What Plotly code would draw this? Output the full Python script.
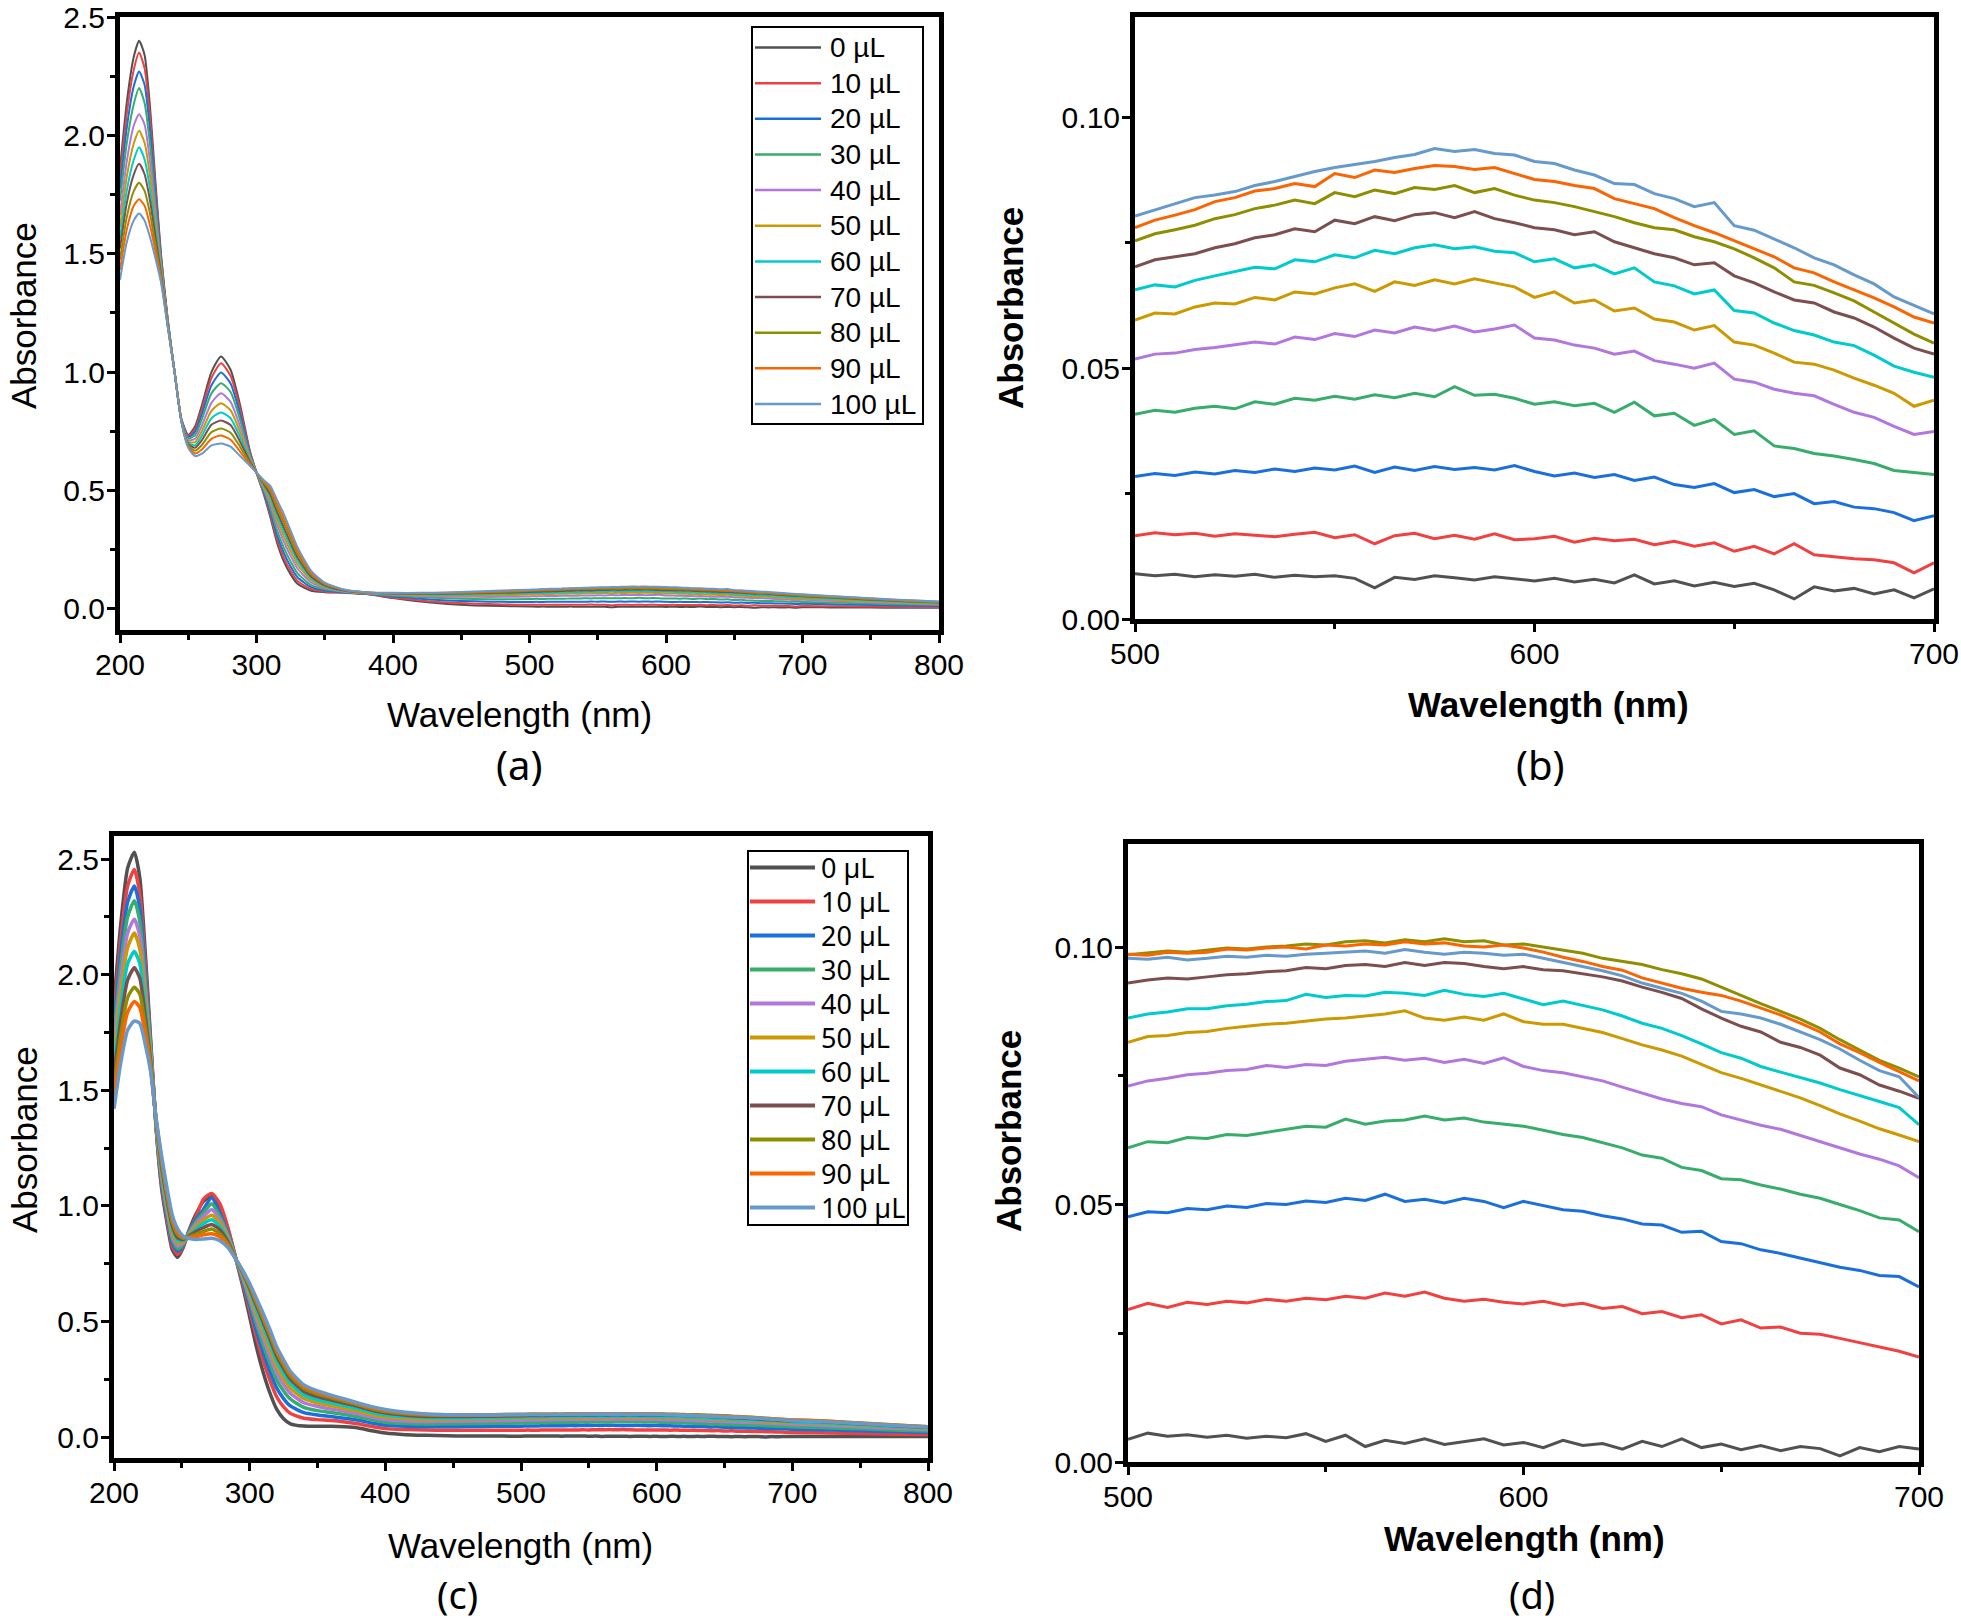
import plotly.graph_objects as go

# ---------------- series meta ----------------
labels = ['0 µL', '10 µL', '20 µL', '30 µL', '40 µL', '50 µL',
          '60 µL', '70 µL', '80 µL', '90 µL', '100 µL']
colors = ['#515151', '#F14040', '#1A6FDF', '#37AD6B', '#B177DE', '#CC9900',
          '#00CBCC', '#7D4E4E', '#8E8E00', '#FB6501', '#6699CC']

# ---------------- wavelength grids (nm) ----------------
wl_uv_a = [200, 205, 210, 214, 218, 222, 226, 230, 235, 240, 245, 250, 255, 260,
           267, 274, 281, 288, 295, 300, 305, 310, 315, 320, 325, 330, 340, 350,
           365, 380, 400, 420, 440, 460, 480]
wl_uv_c = [200, 205, 210, 215, 219, 223, 227, 231, 235, 239, 243, 247, 251, 255,
           260, 266, 272, 278, 284, 290, 295, 300, 305, 310, 315, 320, 325, 330,
           340, 350, 360, 370, 380, 390, 400, 415, 430, 445, 460, 480]
wl_vis = list(range(500, 705, 5))
wl_tail = [720, 740, 760, 780, 800]

# ---------------- set 1: UV part (panel a) ----------------
a_uv = [
    [1.86, 2.14, 2.33, 2.40, 2.34, 2.12, 1.80, 1.50, 1.22, 1.00, 0.80, 0.735, 0.77, 0.86, 1.00, 1.066, 1.01, 0.86, 0.67, 0.575, 0.49, 0.39, 0.28, 0.20, 0.145, 0.105, 0.076, 0.070, 0.067, 0.062, 0.045, 0.030, 0.020, 0.014, 0.011],
    [1.822, 2.093, 2.275, 2.35, 2.284, 2.076, 1.774, 1.490, 1.218, 1.00, 0.799, 0.731, 0.760, 0.844, 0.975, 1.037, 0.984, 0.843, 0.665, 0.575, 0.494, 0.400, 0.294, 0.216, 0.160, 0.117, 0.083, 0.073, 0.068, 0.063, 0.047, 0.035, 0.026, 0.021, 0.018],
    [1.775, 2.034, 2.206, 2.27, 2.214, 2.021, 1.742, 1.478, 1.215, 1.00, 0.798, 0.725, 0.748, 0.823, 0.944, 0.998, 0.952, 0.821, 0.658, 0.575, 0.500, 0.413, 0.312, 0.236, 0.178, 0.133, 0.091, 0.077, 0.069, 0.063, 0.052, 0.042, 0.035, 0.031, 0.029],
    [1.724, 1.969, 2.130, 2.20, 2.137, 1.961, 1.707, 1.465, 1.211, 1.00, 0.797, 0.719, 0.734, 0.801, 0.910, 0.953, 0.916, 0.798, 0.651, 0.575, 0.506, 0.428, 0.332, 0.258, 0.199, 0.150, 0.100, 0.082, 0.071, 0.064, 0.056, 0.049, 0.044, 0.041, 0.040],
    [1.663, 1.892, 2.040, 2.09, 2.046, 1.889, 1.666, 1.450, 1.207, 1.00, 0.796, 0.712, 0.718, 0.774, 0.870, 0.910, 0.874, 0.770, 0.643, 0.575, 0.513, 0.445, 0.356, 0.284, 0.223, 0.170, 0.111, 0.087, 0.072, 0.065, 0.059, 0.054, 0.051, 0.050, 0.050],
    [1.611, 1.827, 1.964, 2.02, 1.969, 1.829, 1.630, 1.436, 1.204, 1.00, 0.795, 0.706, 0.704, 0.751, 0.836, 0.868, 0.838, 0.746, 0.636, 0.575, 0.519, 0.459, 0.375, 0.306, 0.243, 0.187, 0.121, 0.091, 0.074, 0.066, 0.061, 0.058, 0.056, 0.056, 0.057],
    [1.564, 1.768, 1.895, 1.95, 1.899, 1.774, 1.598, 1.424, 1.201, 1.00, 0.794, 0.700, 0.691, 0.731, 0.805, 0.829, 0.805, 0.725, 0.629, 0.575, 0.525, 0.472, 0.393, 0.326, 0.262, 0.203, 0.129, 0.095, 0.075, 0.067, 0.063, 0.061, 0.060, 0.061, 0.063],
    [1.522, 1.715, 1.833, 1.88, 1.836, 1.724, 1.570, 1.414, 1.198, 1.00, 0.793, 0.695, 0.680, 0.712, 0.777, 0.795, 0.776, 0.705, 0.623, 0.575, 0.530, 0.484, 0.410, 0.344, 0.278, 0.217, 0.136, 0.099, 0.076, 0.068, 0.064, 0.063, 0.063, 0.065, 0.067],
    [1.475, 1.656, 1.764, 1.80, 1.766, 1.669, 1.538, 1.402, 1.195, 1.00, 0.792, 0.690, 0.668, 0.692, 0.746, 0.761, 0.744, 0.684, 0.617, 0.575, 0.535, 0.497, 0.428, 0.364, 0.297, 0.232, 0.145, 0.103, 0.078, 0.069, 0.065, 0.065, 0.066, 0.068, 0.071],
    [1.432, 1.603, 1.702, 1.73, 1.703, 1.620, 1.509, 1.391, 1.193, 1.00, 0.791, 0.685, 0.656, 0.673, 0.718, 0.732, 0.714, 0.664, 0.611, 0.575, 0.540, 0.508, 0.444, 0.382, 0.313, 0.246, 0.152, 0.106, 0.079, 0.069, 0.066, 0.066, 0.067, 0.070, 0.074],
    [1.39, 1.55, 1.64, 1.67, 1.64, 1.57, 1.48, 1.38, 1.19, 1.00, 0.79, 0.68, 0.645, 0.655, 0.69, 0.698, 0.685, 0.645, 0.605, 0.575, 0.545, 0.52, 0.46, 0.40, 0.33, 0.26, 0.16, 0.11, 0.08, 0.07, 0.067, 0.067, 0.069, 0.073, 0.077],
]

# ---------------- set 1: visible part 500-700 nm (panels a, b) ----------------
b_vis = [
    [.0090, .0086, .0089, .0084, .0088, .0085, .0089, .0083, .0087, .0084, .0086, .0081, .0062, .0083, .0079, .0086, .0082, .0078, .0084, .0080, .0076, .0081, .0074, .0079, .0072, .0088, .0070, .0076, .0066, .0073, .0065, .0071, .0058, .0040, .0064, .0056, .0061, .0050, .0058, .0042, .0060],
    [.0166, .0172, .0168, .0171, .0165, .0170, .0167, .0164, .0169, .0173, .0162, .0168, .0150, .0166, .0171, .0160, .0167, .0159, .0170, .0158, .0160, .0165, .0153, .0161, .0156, .0159, .0148, .0155, .0145, .0152, .0135, .0145, .0130, .0150, .0128, .0124, .0120, .0118, .0112, .0092, .0112],
    [.0284, .0290, .0286, .0293, .0289, .0296, .0292, .0299, .0294, .0301, .0297, .0305, .0292, .0303, .0296, .0304, .0298, .0302, .0297, .0306, .0294, .0285, .0291, .0282, .0288, .0276, .0283, .0268, .0262, .0270, .0252, .0258, .0244, .0250, .0230, .0234, .0223, .0220, .0212, .0196, .0206],
    [.0408, .0416, .0412, .0420, .0424, .0419, .0433, .0428, .0440, .0436, .0444, .0438, .0447, .0441, .0450, .0443, .0463, .0446, .0448, .0440, .0428, .0433, .0425, .0430, .0412, .0432, .0405, .0410, .0386, .0398, .0368, .0375, .0345, .0340, .0330, .0325, .0318, .0310, .0296, .0292, .0288],
    [.0518, .0528, .0530, .0537, .0541, .0547, .0552, .0548, .0562, .0557, .0569, .0563, .0576, .0570, .0582, .0575, .0584, .0572, .0578, .0586, .0560, .0556, .0546, .0540, .0528, .0534, .0515, .0508, .0500, .0510, .0478, .0472, .0458, .0450, .0445, .0428, .0412, .0402, .0384, .0368, .0374],
    [.0596, .0610, .0608, .0622, .0630, .0628, .0641, .0636, .0652, .0648, .0660, .0668, .0653, .0672, .0665, .0676, .0668, .0678, .0670, .0662, .0641, .0652, .0630, .0636, .0614, .0620, .0598, .0592, .0576, .0585, .0552, .0546, .0530, .0512, .0508, .0496, .0480, .0466, .0450, .0424, .0436],
    [.0656, .0666, .0662, .0675, .0684, .0692, .0701, .0698, .0716, .0712, .0726, .0720, .0735, .0728, .0740, .0746, .0738, .0742, .0733, .0730, .0712, .0718, .0700, .0706, .0688, .0700, .0672, .0664, .0648, .0656, .0615, .0610, .0590, .0575, .0566, .0552, .0545, .0526, .0504, .0492, .0482],
    [.0702, .0716, .0722, .0728, .0740, .0748, .0760, .0766, .0778, .0772, .0795, .0788, .0802, .0794, .0806, .0810, .0800, .0812, .0798, .0790, .0780, .0776, .0766, .0772, .0752, .0740, .0728, .0720, .0706, .0710, .0684, .0670, .0652, .0636, .0630, .0612, .0600, .0582, .0560, .0540, .0528],
    [.0754, .0768, .0776, .0785, .0798, .0806, .0818, .0825, .0835, .0828, .0850, .0842, .0855, .0848, .0860, .0856, .0864, .0850, .0858, .0845, .0835, .0830, .0822, .0812, .0802, .0790, .0780, .0776, .0762, .0752, .0738, .0720, .0700, .0672, .0665, .0650, .0634, .0612, .0590, .0568, .0550],
    [.0780, .0795, .0805, .0816, .0832, .0840, .0853, .0858, .0868, .0862, .0888, .0880, .0895, .0890, .0898, .0904, .0902, .0896, .0900, .0888, .0876, .0872, .0864, .0858, .0838, .0828, .0818, .0800, .0784, .0770, .0754, .0738, .0722, .0700, .0690, .0672, .0656, .0640, .0622, .0602, .0590],
    [.0803, .0815, .0828, .0840, .0845, .0852, .0864, .0872, .0882, .0892, .0900, .0906, .0912, .0920, .0926, .0938, .0932, .0936, .0928, .0925, .0912, .0908, .0895, .0885, .0868, .0866, .0848, .0838, .0822, .0830, .0784, .0775, .0758, .0740, .0720, .0706, .0686, .0668, .0642, .0625, .0608],
]

# ---------------- set 1: tail 720-800 nm ----------------
a_tail = [
    [.0055, .0050, .0045, .0040, .0035],
    [.0105, .0095, .0085, .0075, .0065],
    [.0190, .0170, .0150, .0130, .0115],
    [.0262, .0235, .0205, .0180, .0160],
    [.0335, .0295, .0255, .0220, .0190],
    [.0385, .0340, .0295, .0255, .0220],
    [.0430, .0380, .0330, .0285, .0245],
    [.0470, .0410, .0355, .0305, .0260],
    [.0490, .0430, .0375, .0320, .0275],
    [.0525, .0460, .0400, .0345, .0295],
    [.0540, .0475, .0410, .0355, .0300],
]

# ---------------- set 2: UV part (panel c) ----------------
c_uv = [
    [1.88, 2.22, 2.46, 2.53, 2.42, 2.10, 1.72, 1.34, 1.08, 0.93, 0.81, 0.778, 0.82, 0.89, 0.96, 1.02, 1.045, 1.00, 0.90, 0.768, 0.65, 0.52, 0.39, 0.28, 0.19, 0.12, 0.08, 0.058, 0.048, 0.047, 0.047, 0.045, 0.040, 0.028, 0.018, 0.011, 0.008, 0.006, 0.005, 0.005],
    [1.829, 2.154, 2.383, 2.455, 2.351, 2.056, 1.705, 1.344, 1.095, 0.947, 0.827, 0.791, 0.826, 0.887, 0.948, 1.03, 1.054, 1.01, 0.905, 0.768, 0.664, 0.549, 0.432, 0.331, 0.245, 0.174, 0.131, 0.103, 0.082, 0.076, 0.072, 0.066, 0.058, 0.046, 0.037, 0.033, 0.031, 0.030, 0.030, 0.030],
    [1.783, 2.094, 2.313, 2.384, 2.288, 2.016, 1.691, 1.348, 1.109, 0.962, 0.842, 0.804, 0.831, 0.884, 0.938, 0.986, 1.035, 0.969, 0.883, 0.768, 0.674, 0.569, 0.461, 0.367, 0.284, 0.212, 0.167, 0.135, 0.106, 0.096, 0.089, 0.082, 0.074, 0.061, 0.052, 0.047, 0.045, 0.045, 0.046, 0.047],
    [1.742, 2.040, 2.250, 2.32, 2.231, 1.980, 1.678, 1.352, 1.122, 0.975, 0.855, 0.815, 0.835, 0.881, 0.929, 0.971, 1.01, 0.955, 0.876, 0.768, 0.683, 0.588, 0.489, 0.400, 0.319, 0.247, 0.200, 0.165, 0.129, 0.115, 0.107, 0.098, 0.088, 0.075, 0.065, 0.059, 0.057, 0.058, 0.059, 0.060],
    [1.696, 1.980, 2.180, 2.24, 2.168, 1.940, 1.664, 1.356, 1.136, 0.990, 0.870, 0.827, 0.840, 0.878, 0.918, 0.955, 0.985, 0.940, 0.868, 0.768, 0.691, 0.604, 0.512, 0.428, 0.350, 0.277, 0.228, 0.190, 0.149, 0.133, 0.122, 0.112, 0.101, 0.087, 0.077, 0.070, 0.068, 0.069, 0.070, 0.071],
    [1.655, 1.926, 2.117, 2.18, 2.111, 1.904, 1.651, 1.360, 1.149, 1.004, 0.884, 0.838, 0.845, 0.875, 0.909, 0.940, 0.96, 0.927, 0.861, 0.768, 0.698, 0.619, 0.533, 0.453, 0.377, 0.304, 0.253, 0.212, 0.167, 0.148, 0.136, 0.124, 0.112, 0.097, 0.087, 0.080, 0.077, 0.078, 0.079, 0.080],
    [1.609, 1.866, 2.047, 2.10, 2.048, 1.864, 1.637, 1.364, 1.163, 1.019, 0.899, 0.850, 0.850, 0.872, 0.898, 0.924, 0.94, 0.912, 0.853, 0.768, 0.704, 0.632, 0.552, 0.476, 0.402, 0.328, 0.276, 0.233, 0.183, 0.162, 0.149, 0.136, 0.123, 0.107, 0.096, 0.088, 0.084, 0.083, 0.084, 0.085],
    [1.563, 1.806, 1.977, 2.03, 1.985, 1.824, 1.623, 1.368, 1.177, 1.034, 0.914, 0.862, 0.855, 0.869, 0.888, 0.907, 0.92, 0.897, 0.845, 0.768, 0.710, 0.643, 0.569, 0.497, 0.424, 0.350, 0.297, 0.251, 0.198, 0.176, 0.161, 0.147, 0.133, 0.116, 0.104, 0.095, 0.090, 0.089, 0.090, 0.091],
    [1.512, 1.740, 1.900, 1.946, 1.916, 1.780, 1.608, 1.372, 1.192, 1.050, 0.930, 0.876, 0.860, 0.866, 0.876, 0.890, 0.90, 0.880, 0.836, 0.768, 0.714, 0.652, 0.581, 0.512, 0.440, 0.366, 0.312, 0.265, 0.210, 0.186, 0.170, 0.155, 0.140, 0.123, 0.111, 0.101, 0.096, 0.095, 0.096, 0.097],
    [1.471, 1.686, 1.837, 1.884, 1.859, 1.744, 1.595, 1.376, 1.205, 1.064, 0.944, 0.887, 0.865, 0.863, 0.867, 0.875, 0.88, 0.867, 0.829, 0.768, 0.717, 0.659, 0.592, 0.525, 0.454, 0.379, 0.325, 0.276, 0.219, 0.194, 0.177, 0.161, 0.145, 0.128, 0.116, 0.105, 0.099, 0.097, 0.097, 0.097],
    [1.42, 1.62, 1.76, 1.80, 1.79, 1.70, 1.58, 1.38, 1.22, 1.08, 0.96, 0.90, 0.87, 0.86, 0.855, 0.857, 0.86, 0.85, 0.82, 0.768, 0.72, 0.665, 0.60, 0.535, 0.465, 0.39, 0.335, 0.285, 0.226, 0.20, 0.182, 0.165, 0.148, 0.132, 0.120, 0.108, 0.100, 0.097, 0.096, 0.096],
]

# ---------------- set 2: visible part 500-700 nm (panels c, d) ----------------
d_vis = [
    [.0044, .0056, .0050, .0053, .0048, .0052, .0046, .0050, .0047, .0055, .0040, .0052, .0030, .0042, .0036, .0045, .0034, .0040, .0045, .0033, .0038, .0028, .0042, .0032, .0036, .0025, .0040, .0030, .0045, .0028, .0035, .0024, .0032, .0022, .0030, .0026, .0012, .0028, .0020, .0030, .0025],
    [.0296, .0308, .0300, .0310, .0306, .0312, .0309, .0316, .0312, .0318, .0315, .0322, .0318, .0328, .0322, .0330, .0318, .0312, .0316, .0310, .0307, .0312, .0304, .0308, .0298, .0302, .0288, .0292, .0280, .0286, .0268, .0276, .0260, .0262, .0250, .0248, .0240, .0232, .0224, .0215, .0204],
    [.0476, .0486, .0484, .0492, .0490, .0497, .0494, .0502, .0500, .0507, .0504, .0512, .0508, .0520, .0506, .0510, .0503, .0512, .0506, .0494, .0506, .0498, .0490, .0487, .0478, .0472, .0462, .0460, .0446, .0448, .0428, .0424, .0412, .0405, .0396, .0388, .0378, .0372, .0362, .0360, .0340],
    [.0610, .0622, .0620, .0630, .0628, .0636, .0634, .0640, .0645, .0652, .0650, .0666, .0656, .0662, .0664, .0672, .0664, .0668, .0660, .0656, .0652, .0644, .0636, .0630, .0620, .0610, .0596, .0590, .0572, .0566, .0550, .0548, .0538, .0530, .0520, .0512, .0500, .0488, .0474, .0470, .0447],
    [.0730, .0740, .0745, .0752, .0755, .0760, .0762, .0770, .0766, .0772, .0770, .0778, .0782, .0786, .0780, .0784, .0776, .0782, .0774, .0785, .0768, .0760, .0756, .0748, .0740, .0728, .0716, .0705, .0696, .0690, .0674, .0664, .0654, .0646, .0634, .0622, .0610, .0598, .0588, .0575, .0552],
    [.0815, .0826, .0828, .0834, .0836, .0842, .0846, .0850, .0852, .0856, .0860, .0862, .0866, .0870, .0876, .0862, .0858, .0864, .0858, .0870, .0855, .0850, .0850, .0842, .0834, .0822, .0810, .0800, .0788, .0772, .0756, .0745, .0732, .0720, .0707, .0692, .0676, .0662, .0647, .0635, .0622],
    [.0862, .0870, .0874, .0880, .0880, .0886, .0889, .0894, .0896, .0908, .0902, .0906, .0905, .0912, .0910, .0906, .0916, .0908, .0904, .0910, .0899, .0888, .0895, .0886, .0878, .0866, .0852, .0842, .0828, .0812, .0795, .0784, .0768, .0757, .0746, .0736, .0723, .0712, .0700, .0688, .0655],
    [.0930, .0936, .0940, .0938, .0942, .0946, .0948, .0952, .0954, .0960, .0958, .0964, .0966, .0962, .0970, .0964, .0970, .0968, .0962, .0958, .0962, .0956, .0954, .0948, .0942, .0934, .0922, .0912, .0900, .0880, .0862, .0846, .0835, .0815, .0805, .0790, .0765, .0752, .0732, .0720, .0706],
    [.0985, .0988, .0992, .0990, .0994, .0998, .0996, .1000, .1002, .1006, .1004, .1010, .1012, .1008, .1014, .1010, .1016, .1010, .1012, .1004, .1006, .1000, .0994, .0988, .0978, .0972, .0966, .0956, .0948, .0938, .0922, .0905, .0890, .0875, .0860, .0842, .0820, .0800, .0780, .0765, .0748],
    [.0986, .0984, .0990, .0988, .0990, .0996, .0994, .0998, .1000, .0996, .1004, .1002, .1006, .1004, .1010, .1006, .1008, .1002, .1000, .1004, .0998, .0990, .0980, .0972, .0962, .0955, .0940, .0930, .0920, .0912, .0906, .0895, .0882, .0868, .0852, .0835, .0812, .0795, .0776, .0758, .0740],
    [.0978, .0976, .0980, .0975, .0978, .0982, .0980, .0984, .0982, .0986, .0988, .0990, .0992, .0988, .0995, .0990, .0986, .0990, .0988, .0984, .0986, .0978, .0970, .0962, .0954, .0944, .0930, .0920, .0910, .0895, .0875, .0870, .0862, .0850, .0835, .0820, .0802, .0780, .0760, .0748, .0708],
]

# ---------------- set 2: tail 720-800 nm ----------------
c_tail = [
    [.0028, .0030, .0028, .0025, .0025],
    [.0190, .0170, .0150, .0130, .0115],
    [.0320, .0290, .0260, .0230, .0205],
    [.0420, .0380, .0340, .0300, .0265],
    [.0520, .0470, .0420, .0375, .0330],
    [.0590, .0530, .0475, .0425, .0375],
    [.0625, .0565, .0505, .0450, .0400],
    [.0675, .0610, .0545, .0485, .0430],
    [.0715, .0650, .0580, .0515, .0455],
    [.0705, .0640, .0575, .0510, .0450],
    [.0680, .0620, .0555, .0495, .0440],
]

W, H = 1961, 1623


def fx(p):
    return p / W


def fy(p):
    return 1 - p / H


ARIAL = 'Liberation Sans, Arial, sans-serif'
CALIBRI = 'Noto Sans, Open Sans, sans-serif'

fig = go.Figure()

for i in range(11):
    fig.add_trace(go.Scatter(
        x=wl_uv_a + wl_vis + wl_tail, y=a_uv[i] + b_vis[i] + a_tail[i],
        mode='lines', line=dict(color=colors[i], width=2, shape='spline', smoothing=0.6),
        xaxis='x', yaxis='y', showlegend=False, name=labels[i]))
    fig.add_trace(go.Scatter(
        x=wl_vis, y=b_vis[i], mode='lines', line=dict(color=colors[i], width=3),
        xaxis='x2', yaxis='y2', showlegend=False, name=labels[i]))
    fig.add_trace(go.Scatter(
        x=wl_uv_c + wl_vis + wl_tail, y=c_uv[i] + d_vis[i] + c_tail[i],
        mode='lines', line=dict(color=colors[i], width=3.5, shape='spline', smoothing=0.6),
        xaxis='x3', yaxis='y3', showlegend=False, name=labels[i]))
    fig.add_trace(go.Scatter(
        x=wl_vis, y=d_vis[i], mode='lines', line=dict(color=colors[i], width=3),
        xaxis='x4', yaxis='y4', showlegend=False, name=labels[i]))


def axis(domain, rng, dtick, minor, anchor, fmt=None):
    d = dict(domain=domain, range=rng, dtick=dtick, tick0=0, anchor=anchor,
             automargin=False, ticklabeloverflow='allow',
             showline=True, linecolor='black', linewidth=5, mirror=True,
             ticks='outside', ticklen=8, tickwidth=3, tickcolor='black',
             showgrid=False, zeroline=False, ticklabelstandoff=-4,
             minor=dict(ticks='outside', ticklen=5, tickwidth=3, tickcolor='black',
                        dtick=minor, showgrid=False),
             tickfont=dict(family=ARIAL, size=30, color='black'))
    if fmt:
        d['tickformat'] = fmt
    return d


# pixel frames of the four panels (left, right, top, bottom)
frames = {
    'a': (120, 939, 17, 630),
    'b': (1135, 1934, 17, 619),
    'c': (114, 928, 836, 1458),
    'd': (1128, 1919, 844, 1462),
}


def dom(k):
    l, r, t, b = frames[k]
    return [fx(l), fx(r)], [fy(b), fy(t)]


xa, ya = dom('a')
xb, yb = dom('b')
xc, yc = dom('c')
xd, yd = dom('d')

fig.update_layout(
    width=W, height=H, margin=dict(l=0, r=0, t=0, b=0, autoexpand=False),
    paper_bgcolor='white', plot_bgcolor='white', showlegend=False,
    xaxis=axis(xa, [200, 800], 100, 50, 'y'),
    yaxis=axis(ya, [-0.09, 2.5005], 0.5, 0.25, 'x', '.1f'),
    xaxis2=axis(xb, [500, 700], 100, 50, 'y2'),
    yaxis2=axis(yb, [0, 0.12], 0.05, 0.025, 'x2', '.2f'),
    xaxis3=axis(xc, [200, 800], 100, 50, 'y3'),
    yaxis3=axis(yc, [-0.09, 2.6], 0.5, 0.25, 'x3', '.1f'),
    xaxis4=axis(xd, [500, 700], 100, 50, 'y4'),
    yaxis4=axis(yd, [0, 0.12], 0.05, 0.025, 'x4', '.2f'),
)

annotations = []
shapes = []


def text(x, y, s, size, family=ARIAL, angle=0, xanchor='center', bold=False):
    if bold:
        s = '<b>' + s + '</b>'
    annotations.append(dict(x=fx(x), y=fy(y), xref='paper', yref='paper', text=s,
                            showarrow=False, xanchor=xanchor, yanchor='middle',
                            textangle=angle,
                            font=dict(family=family, size=size, color='black')))


# axis titles
text(519, 714, 'Wavelength (nm)', 35)
text(24, 316, 'Absorbance', 35, angle=-90)
text(1548, 704, 'Wavelength (nm)', 35, bold=True)
text(1010, 308, 'Absorbance', 35, angle=-90, bold=True)
text(520, 1545, 'Wavelength (nm)', 35)
text(24, 1140, 'Absorbance', 35, angle=-90)
text(1524, 1538, 'Wavelength (nm)', 35, bold=True)
text(1008, 1131, 'Absorbance', 35, angle=-90, bold=True)

# panel captions
text(519, 764, '(a)', 40, family=CALIBRI)
text(1540, 764, '(b)', 40, family=CALIBRI)
text(457, 1594, '(c)', 38, family=CALIBRI)
text(1532, 1594, '(d)', 38, family=CALIBRI)


def legend(box, y0, dy, x_line, x_text, lw, size, family):
    l, r, t, b = box
    shapes.append(dict(type='rect', xref='paper', yref='paper',
                       x0=fx(l), x1=fx(r), y0=fy(b), y1=fy(t),
                       line=dict(color='black', width=2), fillcolor='white', layer='above'))
    for i, lab in enumerate(labels):
        y = y0 + i * dy
        shapes.append(dict(type='line', xref='paper', yref='paper',
                           x0=fx(x_line[0]), x1=fx(x_line[1]), y0=fy(y), y1=fy(y),
                           line=dict(color=colors[i], width=lw), layer='above'))
        text(x_text, y, lab, size, family=family, xanchor='left')


legend((752, 923, 27, 424), 47.5, 35.65, (755, 821), 828, 2.5, 28, ARIAL)
legend((748, 908, 851, 1225), 867.5, 34.0, (750, 815), 819, 4, 27, CALIBRI)

fig.update_layout(annotations=annotations, shapes=shapes)

# drop the default page margin so the figure fills the window exactly
fig.write_html("out.html",
               config={'displayModeBar': False},
               post_script="document.body.style.margin='0';"
                           "document.body.style.overflow='hidden';")
